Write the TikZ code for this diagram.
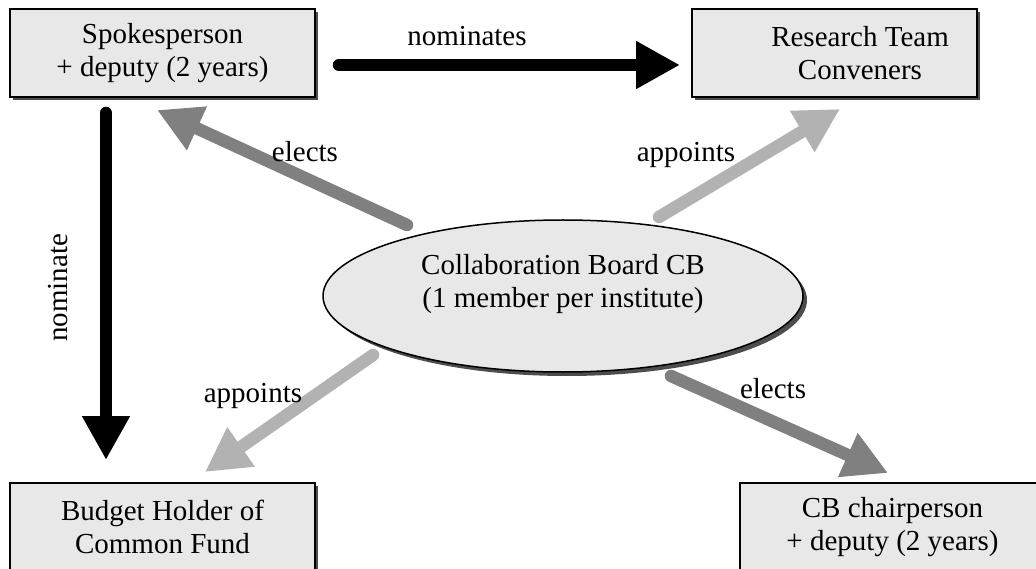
\documentclass[tikz,border=0pt]{standalone}
\usepackage{fontspec}
\setmainfont{Liberation Serif}
\usetikzlibrary{arrows.meta,shapes.geometric,shadows}
\definecolor{boxfill}{HTML}{E8E8E8}
\definecolor{darkarrow}{HTML}{808080}
\definecolor{lightarrow}{HTML}{B2B2B2}
\definecolor{shadowgray}{HTML}{4D4D4D}
\begin{document}
\begin{tikzpicture}[x=1pt,y=-1pt,
  every node/.style={font=\fontsize{29}{33}\selectfont},
  box/.style={draw=black, line width=1.5pt, fill=boxfill, minimum width=305pt, minimum height=88pt, align=center, inner sep=0pt,
    drop shadow={shadow xshift=3pt, shadow yshift=-3pt, fill=shadowgray, opacity=1}},
  boardshape/.style={ellipse, draw=black, line width=1.5pt, fill=boxfill, minimum width=480pt, minimum height=152pt, inner sep=0pt,
    drop shadow={shadow xshift=4pt, shadow yshift=-4pt, fill=shadowgray, opacity=1}},
  lbl/.style={inner sep=0pt, anchor=base},
  bigarrow/.style={line width=12.5pt, line cap=round, -{Triangle[length=44pt,width=45pt]}},
]
\useasboundingbox (0,0) rectangle (1036,569);
\fill[white] (0,0) rectangle (1036,569);

% boxes
\node[box] (spk) at (162.5,53) {Spokesperson\\+ deputy (2 years)};
\node[box, minimum width=285pt] (rtc) at (834.5,53) {\hspace*{51pt}Research Team\\\hspace*{51pt}Conveners};
\node[box] (bud) at (162.5,527) {Budget Holder of\\Common Fund};
\node[box] (cbc) at (892.5,527) {CB chairperson\\+ deputy (2 years)};

% arrow end points
\coordinate (nomS) at (339,65);   \coordinate (nomE) at (680,65);
\coordinate (nvS) at (106,113);   \coordinate (nvE) at (106,460);
\coordinate (el1S) at (407,225);  \coordinate (el1E) at (157,110);
\coordinate (ap1S) at (659,217);  \coordinate (ap1E) at (840,109);
\coordinate (ap2S) at (373,355);  \coordinate (ap2E) at (205,472);
\coordinate (el2S) at (671,376);  \coordinate (el2E) at (888,473);

\draw[bigarrow, black] (nomS) -- (nomE);
\draw[bigarrow, black] (nvS) -- (nvE);
\draw[bigarrow, darkarrow] (el1S) -- (el1E);
\draw[bigarrow, lightarrow] (ap1S) -- (ap1E);
\draw[bigarrow, lightarrow] (ap2S) -- (ap2E);
\draw[bigarrow, darkarrow] (el2S) -- (el2E);

% board
\node[boardshape] (cb) at (563,296) {};
\node[align=center, inner sep=0pt] (cbt) at (563,284) {Collaboration Board CB\\(1 member per institute)};

% labels
\node[lbl] (lnom) at (467,46) {nominates};
\node[lbl, rotate=90] (lnomv) at (67,288) {nominate};
\node[lbl] (lel1) at (305,162) {elects};
\node[lbl] (lap1) at (686,162) {appoints};
\node[lbl] (lap2) at (253,402) {appoints};
\node[lbl] (lel2) at (773,398) {elects};
\end{tikzpicture}
\end{document}
